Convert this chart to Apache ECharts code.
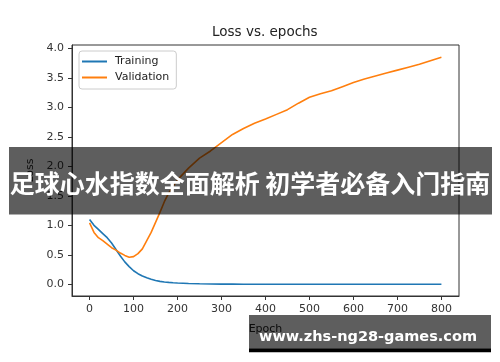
<!DOCTYPE html>
<html>
<head>
<meta charset="utf-8">
<script src="https://cdn.jsdelivr.net/npm/echarts@6/dist/echarts.min.js"></script>
<style>
html,body{margin:0;padding:0;background:#fff;}
#chart{width:500px;height:362px;}
</style>
</head>
<body>
<div id="chart"></div>
<script>
const epochs = [0,10,20,30,40,50,60,70,80,90,100,110,120,130,140,150,160,170,180,190,200,225,250,275,300,325,350,375,400,425,450,475,500,525,550,575,600,625,650,675,700,725,750,775,800];
const trainingLoss = [1.10,1.00,0.93,0.86,0.79,0.70,0.59,0.48,0.38,0.30,0.23,0.18,0.14,0.11,0.085,0.065,0.05,0.04,0.033,0.027,0.022,0.014,0.009,0.006,0.004,0.003,0.002,0.002,0.001,0.001,0.001,0.001,0.0,0.0,0.0,0.0,0.0,0.0,0.0,0.0,0.0,0.0,0.0,0.0,0.0];
const validationLoss = [1.04,0.88,0.79,0.74,0.68,0.62,0.58,0.53,0.49,0.46,0.47,0.52,0.60,0.74,0.88,1.05,1.22,1.40,1.55,1.66,1.77,1.97,2.14,2.26,2.40,2.54,2.64,2.73,2.80,2.88,2.96,3.07,3.17,3.23,3.28,3.35,3.42,3.48,3.53,3.58,3.63,3.68,3.73,3.79,3.85];
const xTicks = [0,100,200,300,400,500,600,700,800];
const yTicks = [0.0,0.5,1.0,1.5,2.0,2.5,3.0,3.5,4.0];
const titleText = 'Loss vs. epochs';
const seriesNames = ['Training','Validation'];
const xLabel = 'Epoch';
const yLabel = 'Loss';
const bannerText = '足球心水指数全面解析 初学者必备入门指南';
const watermarkText = 'www.zhs-ng28-games.com';

const font = 'DejaVu Sans';
const chart = echarts.init(document.getElementById('chart'), null, {renderer:'canvas'});
const axisCommon = {
  axisLine:{show:true,onZero:false,lineStyle:{color:'#333',width:1}},
  axisTick:{show:true,inside:false,length:4,lineStyle:{color:'#333',width:1}},
  splitLine:{show:false},
  nameTextStyle:{fontFamily:font,fontSize:11,color:'#222'}
};
chart.setOption({
  animation:false,
  backgroundColor:'#fff',
  title:{text:titleText,left:212,top:25,padding:0,textStyle:{fontFamily:font,fontSize:13.5,fontWeight:'normal',color:'#222'}},
  grid:{left:72,top:45,right:41,bottom:66,show:true,borderColor:'#333',borderWidth:1,containLabel:false},
  legend:{
    data:seriesNames,orient:'vertical',left:79,top:51,
    icon:'rect',itemWidth:25,itemHeight:2,itemGap:5,
    padding:[5,7,6,3],
    backgroundColor:'rgba(255,255,255,0.8)',borderColor:'#ccc',borderWidth:1,borderRadius:3,
    textStyle:{fontFamily:font,fontSize:11,color:'#222',padding:[0,0,0,3]}
  },
  xAxis:Object.assign({},axisCommon,{
    type:'value',min:-40,max:840,
    name:xLabel,nameLocation:'middle',nameGap:28,
    axisTick:Object.assign({},axisCommon.axisTick,{customValues:xTicks}),
    axisLabel:{customValues:xTicks,fontFamily:font,fontSize:11,color:'#333',margin:8,formatter:v=>String(v)}
  }),
  yAxis:Object.assign({},axisCommon,{
    type:'value',min:-0.198,max:4.056,
    name:yLabel,nameLocation:'middle',nameGap:35,
    axisTick:Object.assign({},axisCommon.axisTick,{customValues:yTicks}),
    axisLabel:{customValues:yTicks,fontFamily:font,fontSize:11,color:'#333',margin:8,formatter:v=>v.toFixed(1)}
  }),
  series:[
    {name:seriesNames[0],type:'line',showSymbol:false,symbol:'none',smooth:false,
     data:epochs.map((e,i)=>[e,trainingLoss[i]]),lineStyle:{color:'#1f77b4',width:1.6},itemStyle:{color:'#1f77b4'}},
    {name:seriesNames[1],type:'line',showSymbol:false,symbol:'none',smooth:false,
     data:epochs.map((e,i)=>[e,validationLoss[i]]),lineStyle:{color:'#ff7f0e',width:1.6},itemStyle:{color:'#ff7f0e'}}
  ],
  graphic:[
    {type:'rect',z:100,shape:{x:9,y:147,width:483,height:67.5},style:{fill:'rgba(0,0,0,0.63)'}},
    {type:'text',z:101,x:250,y:183,style:{text:bannerText,textAlign:'center',textVerticalAlign:'middle',fill:'#fff',font:'bold 25px "Noto Sans CJK SC"'}},
    {type:'rect',z:100,shape:{x:249,y:315,width:242,height:33.3},style:{fill:'rgba(0,0,0,0.63)'}},
    {type:'rect',z:100,shape:{x:249,y:348.3,width:242,height:4},style:{fill:'#000'}},
    {type:'text',z:101,x:259,y:337,style:{text:watermarkText,textAlign:'left',textVerticalAlign:'middle',fill:'#fff',font:'bold 14.5px "DejaVu Sans"'}}
  ]
});
</script>
</body>
</html>
